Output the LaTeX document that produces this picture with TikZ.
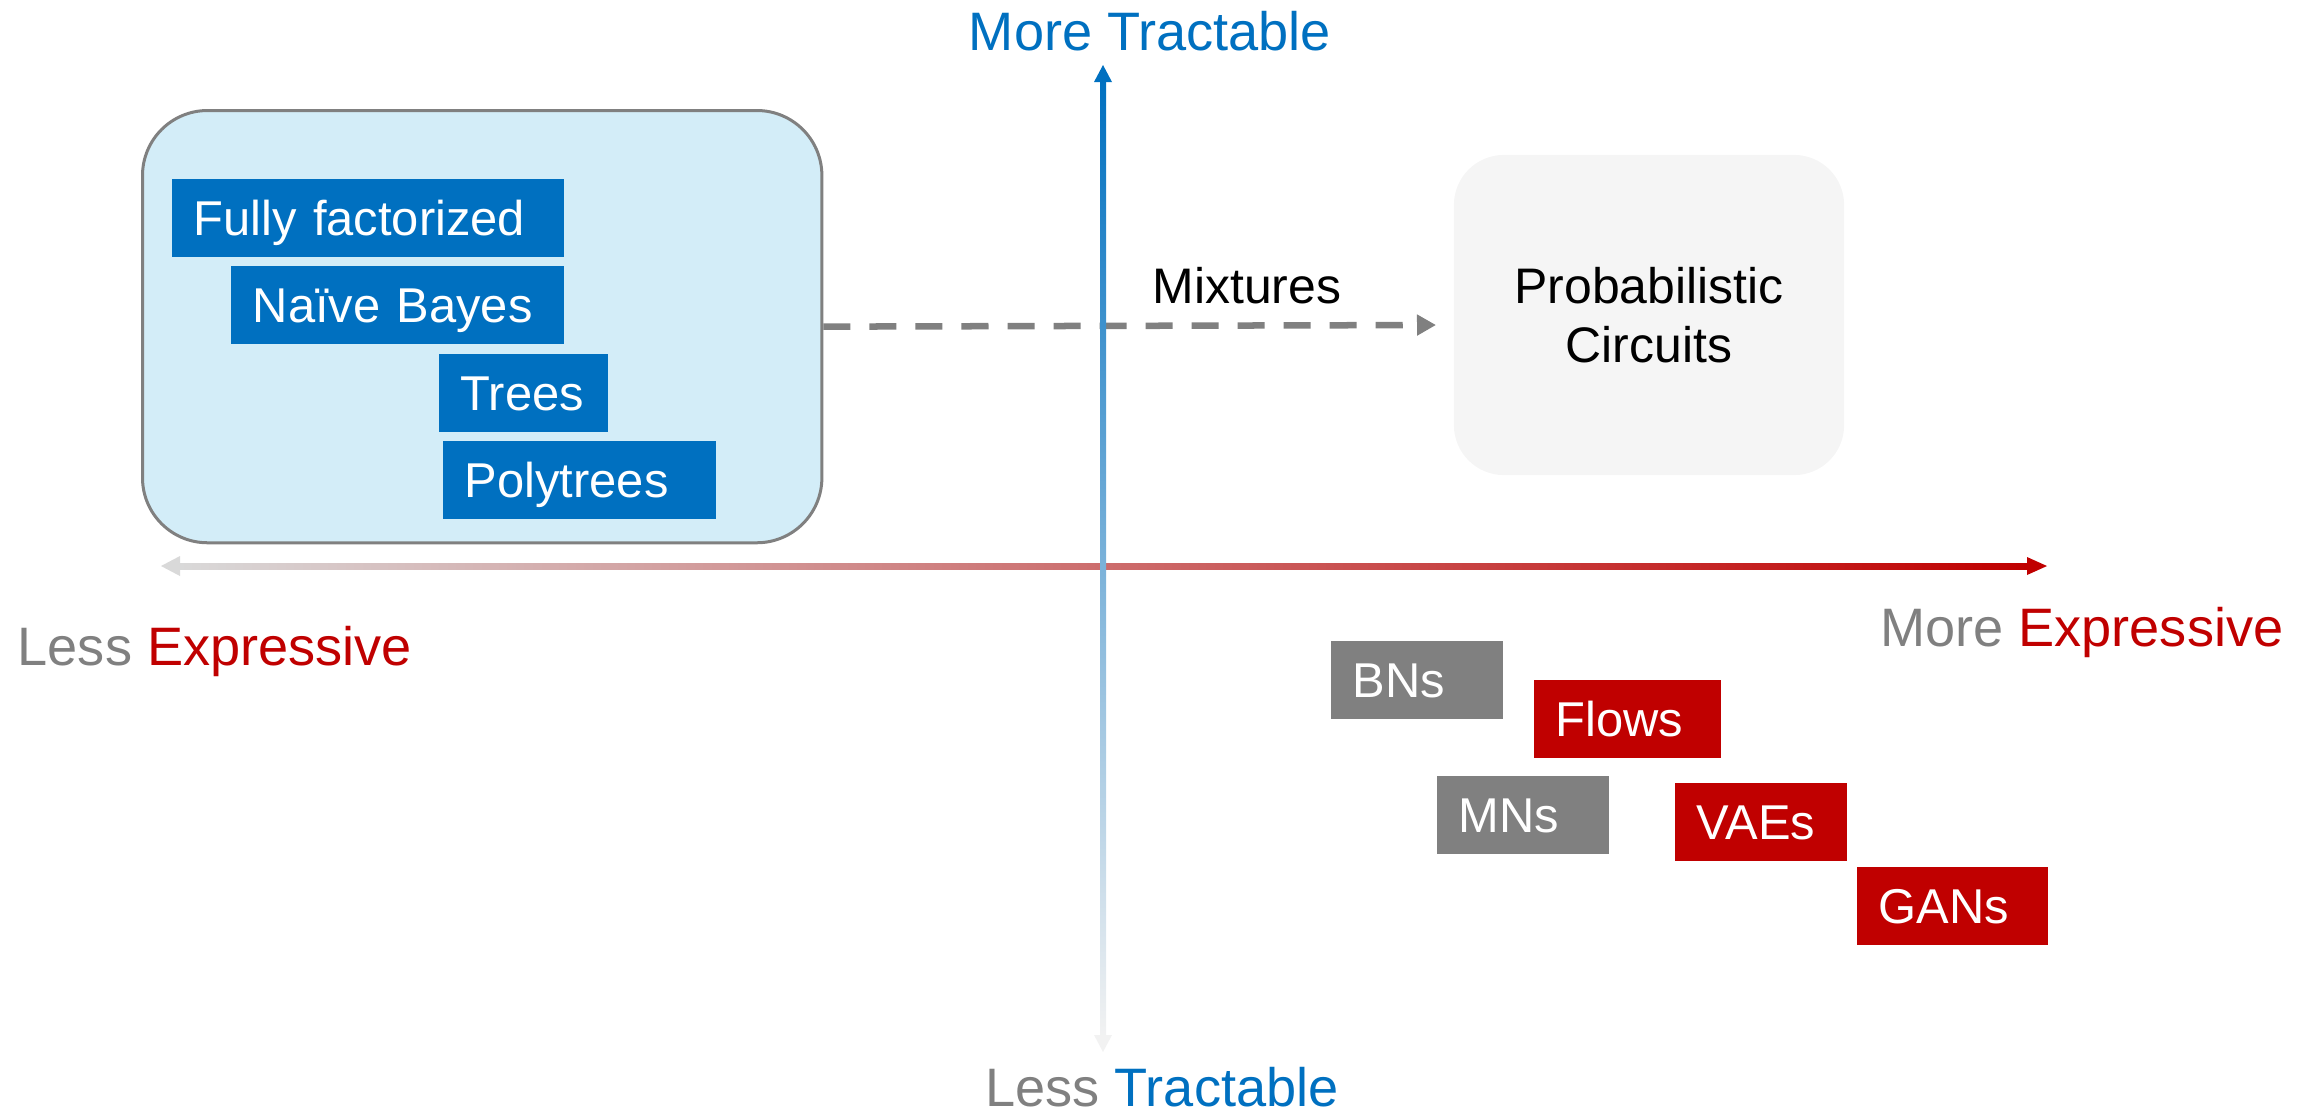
\documentclass[tikz,border=0pt]{standalone}
\usepackage{fontspec}
\setmainfont{Liberation Sans}
\usetikzlibrary{arrows.meta}

% palette
\definecolor{tblue}{HTML}{0070C0}
\definecolor{tred}{HTML}{C00000}
\definecolor{tgray}{HTML}{808080}
\definecolor{groupfill}{HTML}{D3EDF8}
\definecolor{pcfill}{HTML}{F5F5F5}
\definecolor{vmid}{HTML}{A3CBE8}
\definecolor{vlow}{HTML}{F2F2F2}
\definecolor{hlow}{HTML}{D9D9D9}
\definecolor{hmid}{HTML}{DCA0A0}

\newcommand\tagfont{\fontsize{13.9pt}{16.7pt}\selectfont}
\newcommand\axisfont{\fontsize{15.4pt}{18pt}\selectfont}
\newcommand\pcfont{\fontsize{14.2pt}{16.8pt}\selectfont}

\tikzset{
  tag/.style={anchor=north west, minimum height=0.78cm, inner xsep=0.22cm,
    inner ysep=0pt, text height=0.35cm, text depth=0pt, align=left,
    text=white, font=\tagfont},
  bluetag/.style={tag, fill=tblue},
  redtag/.style={tag, fill=tred},
  graytag/.style={tag, fill=tgray},
  axislabel/.style={anchor=base, font=\axisfont, inner sep=0pt},
  mixarrow/.style={draw=tgray, line width=0.065cm, dash pattern=on 0.27cm off 0.19cm,
    -{Triangle[length=0.19cm, width=0.2cm, fill=tgray]}},
}

\begin{document}
\begin{tikzpicture}[x=0.01cm, y=-0.01cm]
\useasboundingbox (0,0) rectangle (2318,1114);

% tractable family
\node[draw=tgray, line width=0.03cm, fill=groupfill, rounded corners=0.65cm,
      minimum width=6.79cm, minimum height=4.32cm, anchor=north west,
      inner sep=0pt] (group) at (141,109) {};
\node[bluetag, text width=3.48cm] (ff) at (171,178) {Fully factorized};
\node[bluetag, text width=2.89cm] (nb) at (230,265) {Naïve Bayes};
\node[bluetag, text width=1.25cm] (tr) at (438,353) {Trees};
\node[bluetag, text width=2.29cm] (pt) at (442,440) {Polytrees};

% probabilistic circuits
\node[fill=pcfill, rounded corners=0.5cm, minimum width=3.9cm, minimum height=3.2cm,
      align=center, font=\pcfont, inner sep=0pt] (pc) at (1649,315)
      {Probabilistic\\Circuits};

% mixtures connector
\coordinate (mixend) at (1436,325);
\draw[mixarrow] (group.east) -- (mixend);
\node[anchor=base, font=\pcfont, inner sep=0pt] (mix) at (1247,303) {Mixtures};

% expressiveness axis
\coordinate (xl) at (161,566);
\coordinate (xr) at (2047,566);
\shade[left color=hlow, middle color=hmid, right color=tred]
  ([shift={(18,-3)}]xl) rectangle ([shift={(-19,3)}]xr);
\fill[hlow] (xl) -- ++(19,-10) -- ++(0,20) -- cycle;
\fill[tred] (xr) -- ++(-20,-9) -- ++(0,18) -- cycle;

% tractability axis
\coordinate (yt) at (1103,65);
\coordinate (yb) at (1103,1052);
\shade[top color=tblue, middle color=vmid, bottom color=vlow]
  ([shift={(-3,15)}]yt) rectangle ([shift={(3,-16)}]yb);
\fill[tblue] (yt) -- ++(-9,17) -- ++(18,0) -- cycle;
\fill[vlow] (yb) -- ++(-9,-17) -- ++(18,0) -- cycle;

% axis labels
\node[axislabel, text=tblue] (mt) at (1150,50) {More Tractable};
\node[axislabel] (lt) at (1162,1106) {\textcolor{tgray}{Less} \textcolor{tblue}{Tractable}};
\node[axislabel, anchor=base west] (le) at (17,665) {\textcolor{tgray}{Less} \textcolor{tred}{Expressive}};
\node[axislabel, anchor=base east] (me) at (2284,646) {\textcolor{tgray}{More} \textcolor{tred}{Expressive}};

% expressive families
\node[graytag, text width=1.28cm] (bn) at (1330,640) {BNs};
\node[redtag, text width=1.43cm] (fl) at (1533,679) {Flows};
\node[graytag, text width=1.28cm] (mn) at (1436,775) {MNs};
\node[redtag, text width=1.28cm] (va) at (1674,782) {VAEs};
\node[redtag, text width=1.47cm] (ga) at (1856,866) {GANs};
\end{tikzpicture}
\end{document}
